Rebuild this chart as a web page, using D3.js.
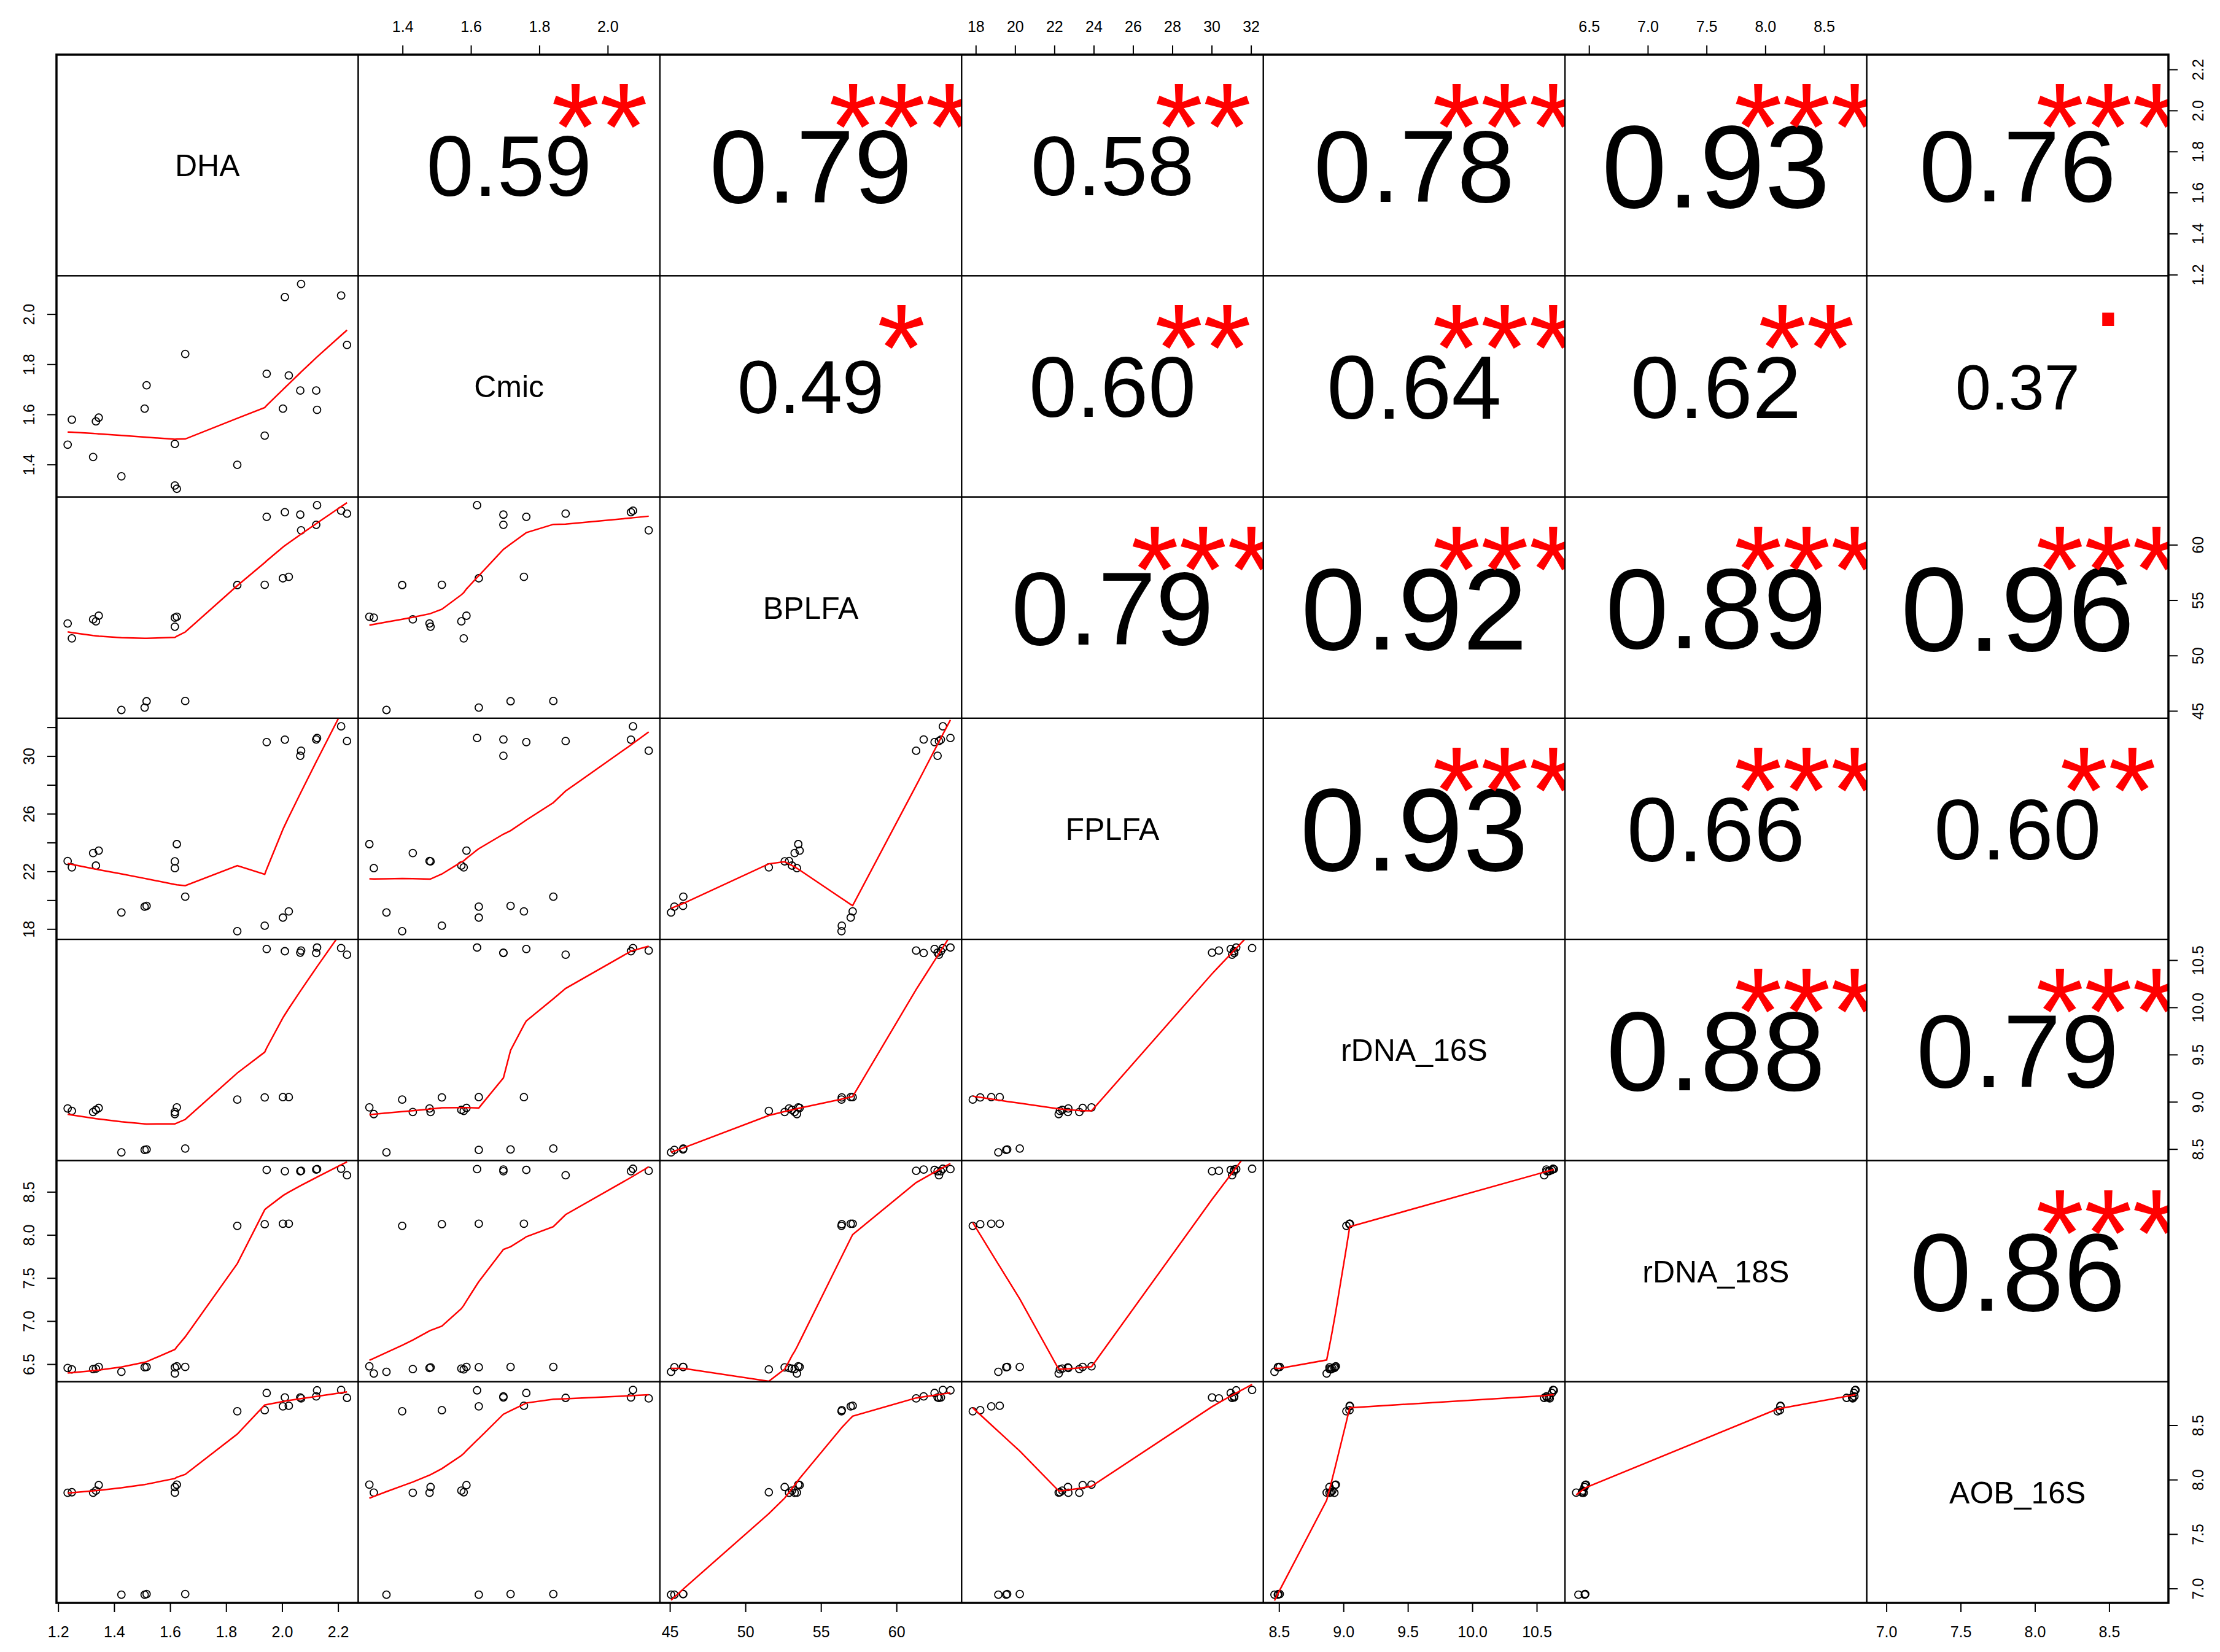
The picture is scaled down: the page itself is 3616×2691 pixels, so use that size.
<!DOCTYPE html>
<meta charset="utf-8">
<style>
body { margin: 0; background: #fff; }
text { font-family: "Liberation Sans", Arial, sans-serif; fill: #000; }
</style>
<body>
<script src="https://d3js.org/d3.v7.min.js"></script>
<script>
// 24 samples, values
var DHA    = [1.234, 1.249, 1.325, 1.335, 1.345, 1.426, 1.509, 1.516, 1.617, 1.617, 1.624, 1.654,
              1.840, 1.938, 1.945, 2.003, 2.010, 2.024, 2.065, 2.068, 2.122, 2.125, 2.211, 2.232];
var Cmic   = [1.479, 1.579, 1.430, 1.572, 1.587, 1.353, 1.623, 1.716, 1.482, 1.316, 1.303, 1.841,
              1.399, 1.515, 1.762, 1.623, 2.068, 1.755, 1.695, 2.120, 1.695, 1.618, 2.074, 1.877];
var BPLFA  = [52.89, 51.55, 53.26, 53.08, 53.59, 45.08, 45.30, 45.87, 52.60, 53.41, 53.50, 45.89,
              56.36, 56.38, 62.52, 56.97, 62.94, 57.10, 62.72, 61.30, 61.80, 63.57, 63.07, 62.81];
var FPLFA  = [22.71, 22.28, 23.27, 22.40, 23.44, 19.15, 19.55, 19.60, 22.69, 22.22, 23.89, 20.24,
              17.85, 18.23, 30.97, 18.79, 31.14, 19.22, 30.02, 30.37, 31.15, 31.25, 32.06, 31.04];
var rDNA16 = [8.930, 8.903, 8.892, 8.914, 8.935, 8.465, 8.491, 8.495, 8.892, 8.870, 8.941, 8.506,
              9.023, 9.047, 10.618, 9.049, 10.594, 9.049, 10.579, 10.601, 10.575, 10.633, 10.627, 10.558];
var rDNA18 = [6.455, 6.439, 6.443, 6.448, 6.467, 6.410, 6.464, 6.467, 6.462, 6.391, 6.474, 6.467,
              8.105, 8.124, 8.754, 8.129, 8.739, 8.129, 8.739, 8.744, 8.758, 8.763, 8.768, 8.692];
var AOB16  = [7.879, 7.884, 7.879, 7.899, 7.950, 6.943, 6.943, 6.949, 7.932, 7.881, 7.954, 6.949,
              8.628, 8.637, 8.796, 8.673, 8.755, 8.678, 8.755, 8.746, 8.764, 8.820, 8.824, 8.751];

var names = ["DHA", "Cmic", "BPLFA", "FPLFA", "rDNA_16S", "rDNA_18S", "AOB_16S"];
var series = [DHA, Cmic, BPLFA, FPLFA, rDNA16, rDNA18, AOB16];

// tick values per variable
var ticksDHA = [1.2, 1.4, 1.6, 1.8, 2.0, 2.2];
var ticksCmic = [1.4, 1.6, 1.8, 2.0];
var ticksBPLFA = [45, 50, 55, 60];
var ticksFPLFA = [18, 20, 22, 24, 26, 28, 30, 32];
var ticks16S = [8.5, 9.0, 9.5, 10.0, 10.5];
var ticks18S = [6.5, 7.0, 7.5, 8.0, 8.5];
var ticksAOB = [7.0, 7.5, 8.0, 8.5];
var tickSets = [ticksDHA, ticksCmic, ticksBPLFA, ticksFPLFA, ticks16S, ticks18S, ticksAOB];
var tickFormats = [".1f", ".1f", "d", "d", ".1f", ".1f", ".1f"];

// upper panels, row by row: correlation and significance stars
var corText = ["0.59", "0.79", "0.58", "0.78", "0.93", "0.76",
               "0.49", "0.60", "0.64", "0.62", "0.37",
               "0.79", "0.92", "0.89", "0.96",
               "0.93", "0.66", "0.60",
               "0.88", "0.79",
               "0.86"];
var corStars = ["**", "***", "**", "***", "***", "***",
                "*", "**", "***", "**", ".",
                "***", "***", "***", "***",
                "***", "***", "**",
                "***", "***",
                "***"];

var width = 3616, height = 2691;
var margin = {top: 89, right: 84, bottom: 80, left: 92};
var n = names.length;
var pw = (width - margin.left - margin.right) / n,
    ph = (height - margin.top - margin.bottom) / n;

var svg = d3.select("body").append("svg")
    .attr("width", width)
    .attr("height", height)
    .style("display", "block");

// one scale per variable, data range padded by 4% like R's pairs()
var xs = [], ys = [];
series.forEach(function(v) {
  var e = d3.extent(v), pad = (e[1] - e[0]) * 0.04;
  xs.push(d3.scaleLinear().domain([e[0] - pad, e[1] + pad]).range([0, pw]));
  ys.push(d3.scaleLinear().domain([e[0] - pad, e[1] + pad]).range([ph, 0]));
});

// R style lowess (f = 2/3, iter = 3)
function lowest(x, y, nn, xv, nleft, nright, w, userw, rw) {
  var range = x[nn - 1] - x[0];
  var h = Math.max(xv - x[nleft], x[nright] - xv);
  var h9 = 0.999 * h, h1 = 0.001 * h;
  var a = 0, j = nleft;
  while (j < nn) {
    w[j] = 0;
    var r = Math.abs(x[j] - xv);
    if (r <= h9) {
      w[j] = r <= h1 ? 1 : Math.pow(1 - Math.pow(r / h, 3), 3);
      if (userw) w[j] *= rw[j];
      a += w[j];
    } else if (x[j] > xv) break;
    j++;
  }
  var nrt = j - 1;
  if (a <= 0) return null;
  for (j = nleft; j <= nrt; j++) w[j] /= a;
  if (h > 0) {
    a = 0;
    for (j = nleft; j <= nrt; j++) a += w[j] * x[j];
    var b = xv - a, c = 0;
    for (j = nleft; j <= nrt; j++) c += w[j] * (x[j] - a) * (x[j] - a);
    if (Math.sqrt(c) > 0.001 * range) {
      b /= c;
      for (j = nleft; j <= nrt; j++) w[j] *= (b * (x[j] - a) + 1);
    }
  }
  var out = 0;
  for (j = nleft; j <= nrt; j++) out += w[j] * y[j];
  return out;
}

function lowess(xIn, yIn, f, nsteps) {
  var idx = d3.range(xIn.length).sort(function(a, b) { return xIn[a] - xIn[b]; });
  var x = idx.map(function(i) { return xIn[i]; }),
      y = idx.map(function(i) { return yIn[i]; });
  var nn = x.length, delta = 0.01 * (x[nn - 1] - x[0]);
  var fit = new Array(nn).fill(0), rw = new Array(nn).fill(0), res = new Array(nn).fill(0);
  var ns = Math.max(Math.min(Math.floor(f * nn + 1e-7), nn), 2);
  for (var iter = 1; iter <= nsteps + 1; iter++) {
    var nleft = 0, nright = ns - 1, last = -1, i = 0;
    for (;;) {
      if (nright < nn - 1) {
        var d1 = x[i] - x[nleft], d2 = x[nright + 1] - x[i];
        if (d1 > d2) { nleft++; nright++; continue; }
      }
      var v = lowest(x, y, nn, x[i], nleft, nright, res, iter > 1, rw);
      fit[i] = v === null ? y[i] : v;
      if (last < i - 1) {
        var denom = x[i] - x[last];
        for (var j = last + 1; j < i; j++) {
          var alpha = (x[j] - x[last]) / denom;
          fit[j] = alpha * fit[i] + (1 - alpha) * fit[last];
        }
      }
      last = i;
      var cut = x[last] + delta;
      for (i = last + 1; i < nn; i++) {
        if (x[i] > cut) break;
        if (x[i] === x[last]) { fit[i] = fit[last]; last = i; }
      }
      i = Math.max(last + 1, i - 1);
      if (last >= nn - 1) break;
    }
    for (i = 0; i < nn; i++) res[i] = y[i] - fit[i];
    var sc = d3.sum(res, Math.abs) / nn;
    if (iter > nsteps) break;
    var ar = res.map(Math.abs).sort(function(a, b) { return a - b; });
    var m1 = Math.floor(nn / 2);
    var cmad = nn % 2 === 0 ? 3 * (ar[m1] + ar[m1 - 1]) : 6 * ar[m1];
    if (cmad < 1e-7 * sc) break;
    var c9 = 0.999 * cmad, c1 = 0.001 * cmad;
    for (i = 0; i < nn; i++) {
      var r = Math.abs(res[i]);
      rw[i] = r <= c1 ? 1 : (r <= c9 ? Math.pow(1 - Math.pow(r / cmad, 2), 2) : 0);
    }
  }
  return x.map(function(xv, k) { return [xv, fit[k]]; });
}

// full size of the correlation text: "0.xx" spans 80% of the panel width
var fsFull = 0.8 * pw / 1.946;
var line = d3.line();
var k = 0;

for (var i = 0; i < n; i++) {
  for (var j = 0; j < n; j++) {
    var g = svg.append("g")
        .attr("transform", "translate(" + (margin.left + j * pw) + "," + (margin.top + i * ph) + ")");
    var cid = "clip" + i + "_" + j;
    g.append("clipPath").attr("id", cid)
      .append("rect").attr("width", pw).attr("height", ph);
    var inner = g.append("g").attr("clip-path", "url(#" + cid + ")");

    if (i === j) {
      inner.append("text")
          .attr("x", pw / 2).attr("y", ph / 2).attr("dy", "0.36em")
          .style("text-anchor", "middle")
          .style("font-size", "50px")
          .text(names[i]);
    } else if (i > j) {
      var xv = series[j], yv = series[i], sx = xs[j], sy = ys[i];
      inner.selectAll("circle")
          .data(d3.range(xv.length))
        .enter().append("circle")
          .attr("cx", function(d) { return sx(xv[d]); })
          .attr("cy", function(d) { return sy(yv[d]); })
          .attr("r", 6)
          .attr("fill", "none")
          .attr("stroke", "#000")
          .attr("stroke-width", 1.8);
      var sm = lowess(xv, yv, 2 / 3, 3);
      inner.append("path")
          .attr("d", line(sm.map(function(p) { return [sx(p[0]), sy(p[1])]; })))
          .attr("fill", "none")
          .attr("stroke", "#ff0000")
          .attr("stroke-width", 2.5);
    } else {
      var txt = corText[k], st = corStars[k];
      k++;
      var r = +txt;
      inner.append("text")
          .attr("x", pw / 2).attr("y", ph / 2).attr("dy", "0.358em")
          .style("text-anchor", "middle")
          .style("font-size", (fsFull * (r + 0.3) / 1.3) + "px")
          .text(txt);
      inner.append("text")
          .attr("x", 0.8 * pw).attr("y", 0.2 * ph)
          .attr("dy", st === "." ? "0.05em" : "0.57em")
          .style("text-anchor", "middle")
          .style("font-size", fsFull + "px")
          .style("fill", "#ff0000")
          .text(st);
    }

    g.append("rect")
        .attr("width", pw).attr("height", ph)
        .attr("fill", "none").attr("stroke", "#000").attr("stroke-width", 2);
  }
}

// outer frame
svg.append("rect")
    .attr("x", margin.left).attr("y", margin.top)
    .attr("width", n * pw).attr("height", n * ph)
    .attr("fill", "none").attr("stroke", "#000").attr("stroke-width", 3.5);

// hide labels that would overlap, like R's axis()
function thinLabels(axisG, horizontal) {
  var lastPos = null, lastLen = 0;
  axisG.selectAll(".tick").each(function(d) {
    var t = d3.select(this).select("text");
    var len = t.node().getComputedTextLength();
    var tr = d3.select(this).attr("transform").match(/translate\(([^,]+),([^)]+)\)/);
    var pos = horizontal ? +tr[1] : +tr[2];
    if (lastPos !== null && Math.abs(pos - lastPos) < (len + lastLen) / 2 + 25) {
      t.remove();
    } else {
      lastPos = pos; lastLen = len;
    }
  });
}

function styleAxis(a) {
  a.select(".domain").remove();
  a.selectAll("line").attr("stroke-width", 2);
  a.selectAll("text").style("font-size", "25px").attr("font-family", null);
}

for (var v = 0; v < n; v++) {
  var dm = xs[v].domain();
  var tx = tickSets[v].filter(function(t) { return t >= dm[0] && t <= dm[1]; });
  var fmt = d3.format(tickFormats[v]);
  var px = margin.left + v * pw, py = margin.top + v * ph;

  if (v % 2 === 0) {
    // bottom and right axes
    var ab = svg.append("g")
        .attr("transform", "translate(" + px + "," + (margin.top + n * ph) + ")")
        .call(d3.axisBottom(xs[v]).tickValues(tx).tickSize(15).tickPadding(23).tickFormat(fmt));
    styleAxis(ab);
    thinLabels(ab, true);
    var ar = svg.append("g")
        .attr("transform", "translate(" + (margin.left + n * pw) + "," + py + ")")
        .call(d3.axisRight(ys[v]).tickValues(tx).tickSize(15).tickFormat(fmt));
    styleAxis(ar);
    ar.selectAll("text")
        .attr("x", 0).attr("y", 0).attr("dy", "0.35em")
        .style("text-anchor", "middle")
        .attr("transform", "translate(48,0) rotate(-90)");
    thinLabels(ar, false);
  } else {
    // top and left axes
    var at = svg.append("g")
        .attr("transform", "translate(" + px + "," + margin.top + ")")
        .call(d3.axisTop(xs[v]).tickValues(tx).tickSize(15).tickPadding(22).tickFormat(fmt));
    styleAxis(at);
    thinLabels(at, true);
    var al = svg.append("g")
        .attr("transform", "translate(" + margin.left + "," + py + ")")
        .call(d3.axisLeft(ys[v]).tickValues(tx).tickSize(15).tickFormat(fmt));
    styleAxis(al);
    al.selectAll("text")
        .attr("x", 0).attr("y", 0).attr("dy", "0.35em")
        .style("text-anchor", "middle")
        .attr("transform", "translate(-45,0) rotate(-90)");
    thinLabels(al, false);
  }
}
</script>
</body>
